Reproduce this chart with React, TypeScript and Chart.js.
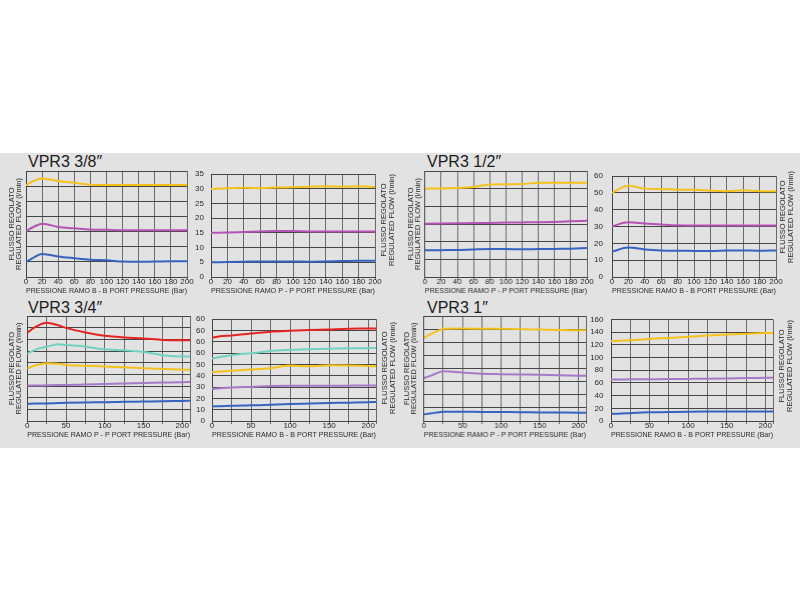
import React, { useEffect, useRef } from 'react';
import { Chart, registerables } from 'chart.js';
Chart.register(...registerables);

const FONT = '"Liberation Sans Narrow", "Liberation Sans", Arial, sans-serif';
const TEXT = '#2a2a2a';

// ---- tick labels ----
const xTicks200 = ['0', '20', '40', '60', '80', '100', '120', '140', '160', '180', '200'];
const xTicks210 = ['0', '50', '100', '150', '200'];
const yTicks35 = ['0', '5', '10', '15', '20', '25', '30', '35'];
const yTicks60 = ['0', '10', '20', '30', '40', '50', '60'];
const yTicks34 = ['0', '10', '20', '30', '40', '50', '60', '60', '60', '60'];
const yTicks160 = ['0', '20', '40', '60', '80', '100', '120', '140', '160'];

// ---- x positions (bar) ----
const x38B = [0, 10, 20, 30, 40, 60, 80, 100, 120, 140, 160, 180, 200];
const x20 = [0, 20, 40, 60, 80, 100, 120, 140, 160, 180, 200];
const x34 = [0, 10, 25, 40, 50, 75, 100, 125, 150, 175, 200, 210];
const x1 = [0, 10, 20, 25, 50, 75, 100, 125, 150, 175, 200, 210];

// ---- VPR3 3/8" ----
const v38B_yellow = [30.3, 31.8, 32.5, 32.2, 31.7, 31.1, 30.5, 30.4, 30.4, 30.4, 30.4, 30.4, 30.4];
const v38B_purple = [15.2, 16.6, 17.6, 17.2, 16.5, 16.1, 15.7, 15.6, 15.4, 15.4, 15.4, 15.4, 15.4];
const v38B_blue = [5.0, 6.5, 7.6, 7.3, 6.8, 6.2, 5.7, 5.5, 5.1, 5.0, 5.1, 5.2, 5.2];
const v38P_yellow = [29.9, 30.2, 30.3, 30.2, 30.4, 30.5, 30.7, 30.8, 30.7, 30.8, 30.6];
const v38P_purple = [15.0, 15.1, 15.3, 15.5, 15.6, 15.6, 15.5, 15.5, 15.5, 15.5, 15.5];
const v38P_blue = [5.0, 5.1, 5.2, 5.3, 5.3, 5.3, 5.2, 5.3, 5.4, 5.5, 5.5];

// ---- VPR3 1/2" ----
const v12P_yellow = [50.0, 50.1, 50.4, 50.9, 52.4, 52.5, 52.6, 53.4, 53.4, 53.4, 53.4];
const v12P_purple = [30.2, 30.3, 30.4, 30.5, 30.6, 30.8, 30.9, 31.0, 31.2, 31.5, 31.9];
const v12P_blue = [15.1, 15.2, 15.3, 15.6, 15.8, 15.8, 15.7, 15.8, 15.9, 16.0, 16.4];
const v12B_yellow = [50.0, 54.2, 52.5, 52.2, 51.9, 51.8, 51.3, 51.0, 51.5, 51.0, 50.9];
const v12B_purple = [30.2, 32.5, 31.8, 31.2, 30.7, 30.6, 30.6, 30.6, 30.6, 30.6, 30.6];
const v12B_blue = [15.1, 17.5, 16.4, 15.8, 15.6, 15.5, 15.4, 15.7, 15.8, 15.6, 15.8];

// ---- VPR3 3/4" ----
const v34P_red = [75.6, 80.5, 84.3, 82.0, 79.8, 75.9, 73.0, 71.6, 70.8, 69.5, 69.3, 69.3];
const v34P_cyan = [57.5, 61.0, 63.7, 65.7, 65.1, 63.7, 61.4, 60.6, 59.2, 56.3, 55.2, 55.2];
const v34P_yellow = [45.0, 47.5, 49.5, 49.0, 48.1, 47.4, 46.7, 46.0, 45.3, 44.6, 44.0, 43.9];
const v34P_purple = [30.3, 30.4, 30.6, 30.8, 30.9, 31.3, 31.7, 32.1, 32.5, 32.9, 33.3, 33.4];
const v34P_blue = [14.7, 14.9, 15.1, 15.4, 15.6, 15.9, 16.1, 16.4, 16.7, 17.0, 17.2, 17.3];
const v34B_red = [73.3, 74.8, 75.5, 76.5, 77.1, 78.8, 79.6, 80.2, 80.8, 81.4, 81.6, 81.7];
const v34B_cyan = [55.2, 56.4, 58.1, 59.3, 59.8, 61.8, 62.7, 63.3, 63.8, 64.1, 64.3, 64.4];
const v34B_yellow = [43.1, 43.7, 44.4, 45.0, 45.4, 46.6, 48.9, 48.3, 49.2, 49.0, 48.5, 48.3];
const v34B_purple = [28.2, 28.8, 29.6, 29.9, 30.1, 30.8, 31.0, 31.0, 31.1, 31.2, 31.3, 31.3];
const v34B_blue = [12.9, 13.1, 13.4, 13.7, 13.8, 14.4, 15.0, 15.4, 15.8, 16.2, 16.6, 16.7];

// ---- VPR3 1" ----
const v1P_yellow = [126.8, 133.0, 138.4, 140.4, 140.9, 140.6, 140.4, 140.0, 139.4, 138.8, 138.4, 138.4];
const v1P_purple = [65.4, 69.5, 74.5, 76.0, 74.0, 71.9, 71.4, 70.9, 70.4, 69.6, 69.0, 68.9];
const v1P_blue = [10.1, 11.8, 13.5, 14.1, 14.1, 13.8, 13.6, 13.4, 13.1, 12.9, 12.7, 12.6];
const v1B_yellow = [125.8, 126.5, 127.0, 127.4, 129.3, 131.0, 132.8, 134.8, 136.4, 137.6, 138.6, 138.9];
const v1B_purple = [65.4, 65.5, 65.6, 65.7, 65.9, 66.1, 66.4, 66.7, 67.1, 67.6, 68.2, 68.4];
const v1B_blue = [11.1, 11.6, 12.1, 12.4, 13.6, 14.1, 14.6, 14.9, 15.1, 15.1, 15.1, 15.1];

const C = {
  yellow: '#f5c21b',
  magenta: '#b553b5',
  lavender: '#a679c8',
  blue: '#3563bf',
  red: '#e42420',
  cyan: '#73d1c2',
};

const TITLE_B = 'PRESSIONE RAMO B - B PORT PRESSURE (Bar)';
const TITLE_P = 'PRESSIONE RAMO P - P PORT PRESSURE (Bar)';
const Y_TITLE = ['FLUSSO REGOLATO', 'REGULATED FLOW (l/min)'];

type Series = { x: number[]; y: number[]; color: string };
type Spec = {
  plot: { l: number; t: number; r: number; b: number };
  leftW: number;
  leftTitle: boolean;
  showY: boolean;
  yPad: number;
  yLabels: string[];
  yStep: number;
  xMax: number;
  xStep: number;
  xLabels: string[];
  xTitle: string;
  series: Series[];
};

const specs: Spec[] = [
  {
    plot: { l: 26, t: 171, r: 187, b: 277 }, leftW: 19, leftTitle: true, showY: false, yPad: 6,
    yLabels: yTicks35, yStep: 5, xMax: 200, xStep: 20, xLabels: xTicks200, xTitle: TITLE_B,
    series: [
      { x: x38B, y: v38B_yellow, color: C.yellow },
      { x: x38B, y: v38B_purple, color: C.magenta },
      { x: x38B, y: v38B_blue, color: C.blue },
    ],
  },
  {
    plot: { l: 211, t: 170.5, r: 375, b: 277 }, leftW: 24, leftTitle: false, showY: true, yPad: 7,
    yLabels: yTicks35, yStep: 5, xMax: 200, xStep: 20, xLabels: xTicks200, xTitle: TITLE_P,
    series: [
      { x: x20, y: v38P_yellow, color: C.yellow },
      { x: x20, y: v38P_purple, color: C.magenta },
      { x: x20, y: v38P_blue, color: C.blue },
    ],
  },
  {
    plot: { l: 425, t: 171, r: 587, b: 277 }, leftW: 18.75, leftTitle: true, showY: false, yPad: 6,
    yLabels: yTicks60, yStep: 10, xMax: 200, xStep: 20, xLabels: xTicks200, xTitle: TITLE_P,
    series: [
      { x: x20, y: v12P_yellow, color: C.yellow },
      { x: x20, y: v12P_purple, color: C.magenta },
      { x: x20, y: v12P_blue, color: C.blue },
    ],
  },
  {
    plot: { l: 612, t: 171, r: 776, b: 277 }, leftW: 24, leftTitle: false, showY: true, yPad: 9,
    yLabels: yTicks60, yStep: 10, xMax: 200, xStep: 20, xLabels: xTicks200, xTitle: TITLE_B,
    series: [
      { x: x20, y: v12B_yellow, color: C.yellow },
      { x: x20, y: v12B_purple, color: C.magenta },
      { x: x20, y: v12B_blue, color: C.blue },
    ],
  },
  {
    plot: { l: 27, t: 315.5, r: 190, b: 420.5 }, leftW: 20.25, leftTitle: true, showY: false, yPad: 6,
    yLabels: yTicks34, yStep: 10, xMax: 210, xStep: 25, xLabels: xTicks210, xTitle: TITLE_P,
    series: [
      { x: x34, y: v34P_red, color: C.red },
      { x: x34, y: v34P_cyan, color: C.cyan },
      { x: x34, y: v34P_yellow, color: C.yellow },
      { x: x34, y: v34P_purple, color: C.lavender },
      { x: x34, y: v34P_blue, color: C.blue },
    ],
  },
  {
    plot: { l: 212, t: 315.5, r: 376, b: 420.5 }, leftW: 24, leftTitle: false, showY: true, yPad: 7,
    yLabels: yTicks34, yStep: 10, xMax: 210, xStep: 25, xLabels: xTicks210, xTitle: TITLE_B,
    series: [
      { x: x34, y: v34B_red, color: C.red },
      { x: x34, y: v34B_cyan, color: C.cyan },
      { x: x34, y: v34B_yellow, color: C.yellow },
      { x: x34, y: v34B_purple, color: C.lavender },
      { x: x34, y: v34B_blue, color: C.blue },
    ],
  },
  {
    plot: { l: 424, t: 315.5, r: 586, b: 420.5 }, leftW: 21.75, leftTitle: true, showY: false, yPad: 6,
    yLabels: yTicks160, yStep: 20, xMax: 210, xStep: 25, xLabels: xTicks210, xTitle: TITLE_P,
    series: [
      { x: x1, y: v1P_yellow, color: C.yellow },
      { x: x1, y: v1P_purple, color: C.lavender },
      { x: x1, y: v1P_blue, color: C.blue },
    ],
  },
  {
    plot: { l: 611, t: 315.5, r: 773, b: 420.5 }, leftW: 24, leftTitle: false, showY: true, yPad: 7.5,
    yLabels: yTicks160, yStep: 20, xMax: 210, xStep: 25, xLabels: xTicks210, xTitle: TITLE_B,
    series: [
      { x: x1, y: v1B_yellow, color: C.yellow },
      { x: x1, y: v1B_purple, color: C.lavender },
      { x: x1, y: v1B_blue, color: C.blue },
    ],
  },
];

const PAD = { left: 10, right: 12, top: 8, bottom: 2 };
const BOTTOM_H = 18;

function gridValues(max: number, step: number): number[] {
  const a: number[] = [];
  for (let v = 0; v <= max + 1e-9; v += step) a.push(v);
  if (a[a.length - 1] < max - 1e-9) a.push(max);
  return a;
}

function MiniChart({ spec }: { spec: Spec }) {
  const ref = useRef<HTMLCanvasElement>(null);
  const left = spec.plot.l - spec.leftW - PAD.left;
  const top = spec.plot.t - PAD.top;
  const width = spec.plot.r + PAD.right - left;
  const height = spec.plot.b + BOTTOM_H + PAD.bottom - top;

  useEffect(() => {
    if (!ref.current) return;
    const yMax = (spec.yLabels.length - 1) * spec.yStep;
    const xGrid = gridValues(spec.xMax, spec.xStep);
    const yGrid = gridValues(yMax, spec.yStep);
    const chart = new Chart(ref.current, {
      type: 'line',
      data: {
        datasets: spec.series.map((s) => ({
          data: s.x.map((x, i) => ({ x, y: s.y[i] })),
          borderColor: s.color,
          backgroundColor: s.color,
          borderWidth: 2,
          pointRadius: 0,
          tension: 0.4,
          cubicInterpolationMode: 'monotone' as const,
          fill: false,
        })),
      },
      options: {
        animation: false,
        responsive: false,
        events: [],
        layout: { padding: PAD },
        plugins: { legend: { display: false }, tooltip: { enabled: false } },
        scales: {
          x: {
            type: 'linear',
            min: 0,
            max: spec.xMax,
            afterBuildTicks: (s: any) => {
              s.ticks = xGrid.map((v) => ({ value: v }));
            },
            afterFit: (s: any) => {
              s.height = BOTTOM_H;
            },
            ticks: {
              autoSkip: false,
              maxRotation: 0,
              minRotation: 0,
              padding: -2,
              color: TEXT,
              font: { family: FONT, size: 8, lineHeight: 1 },
              callback: (v: any) => (spec.xLabels.includes(String(v)) ? String(v) : ''),
            },
            grid: { color: '#6a6a6a', lineWidth: 1, drawTicks: true, tickLength: 3 },
            border: { color: '#444', width: 1 },
            title: {
              display: true,
              text: spec.xTitle,
              color: TEXT,
              font: { family: FONT, size: 8, lineHeight: 1 },
              padding: 0,
            },
          },
          y: {
            type: 'linear',
            min: 0,
            max: yMax,
            afterBuildTicks: (s: any) => {
              s.ticks = yGrid.map((v) => ({ value: v }));
            },
            afterFit: (s: any) => {
              s.width = spec.leftW;
            },
            ticks: {
              display: spec.showY,
              autoSkip: false,
              padding: spec.yPad,
              color: TEXT,
              font: { family: FONT, size: 8, lineHeight: 1 },
              callback: (_v: any, i: number) => spec.yLabels[i] ?? '',
            },
            grid: { color: '#454545', lineWidth: 1, drawTicks: false },
            border: { color: '#444', width: 1 },
            title: {
              display: spec.leftTitle,
              text: Y_TITLE,
              color: TEXT,
              font: { family: FONT, size: 7.5, lineHeight: 1 },
              padding: { top: 1, bottom: 0 },
            },
          },
        },
      },
    } as any);
    return () => chart.destroy();
  }, [spec]);

  return (
    <canvas
      ref={ref}
      width={width}
      height={height}
      style={{ position: 'absolute', left, top, width, height }}
    />
  );
}

const headings = [
  { text: 'VPR3 3/8″', left: 28, top: 154 },
  { text: 'VPR3 1/2″', left: 427, top: 154 },
  { text: 'VPR3 3/4″', left: 28, top: 299.5 },
  { text: 'VPR3 1″', left: 427, top: 299.5 },
];

const rightTitles = [
  { cx: 386.5, cy: 220 },
  { cx: 786, cy: 217 },
  { cx: 388, cy: 368 },
  { cx: 784.5, cy: 366 },
];

export default function App() {
  return (
    <div
      style={{
        position: 'absolute',
        left: 0,
        top: 0,
        width: 800,
        height: 600,
        background: '#ffffff',
        overflow: 'hidden',
        fontFamily: FONT,
      }}
    >
      <div style={{ position: 'absolute', left: 0, top: 153, width: 800, height: 295, background: '#e2e2e2' }} />
      {headings.map((h) => (
        <div
          key={h.text}
          style={{
            position: 'absolute',
            left: h.left,
            top: h.top,
            fontFamily: '"Liberation Sans", Arial, sans-serif',
            fontSize: 16,
            lineHeight: '16px',
            color: '#1c1c1c',
            whiteSpace: 'nowrap',
          }}
        >
          {h.text}
        </div>
      ))}
      {specs.map((s, i) => (
        <MiniChart key={i} spec={s} />
      ))}
      {rightTitles.map((t, i) => (
        <div
          key={i}
          style={{
            position: 'absolute',
            left: t.cx,
            top: t.cy,
            transform: 'translate(-50%, -50%) rotate(-90deg)',
            fontSize: 7.5,
            lineHeight: '7.5px',
            color: TEXT,
            whiteSpace: 'pre',
            textAlign: 'center',
          }}
        >
          {Y_TITLE.join('\n')}
        </div>
      ))}
    </div>
  );
}
